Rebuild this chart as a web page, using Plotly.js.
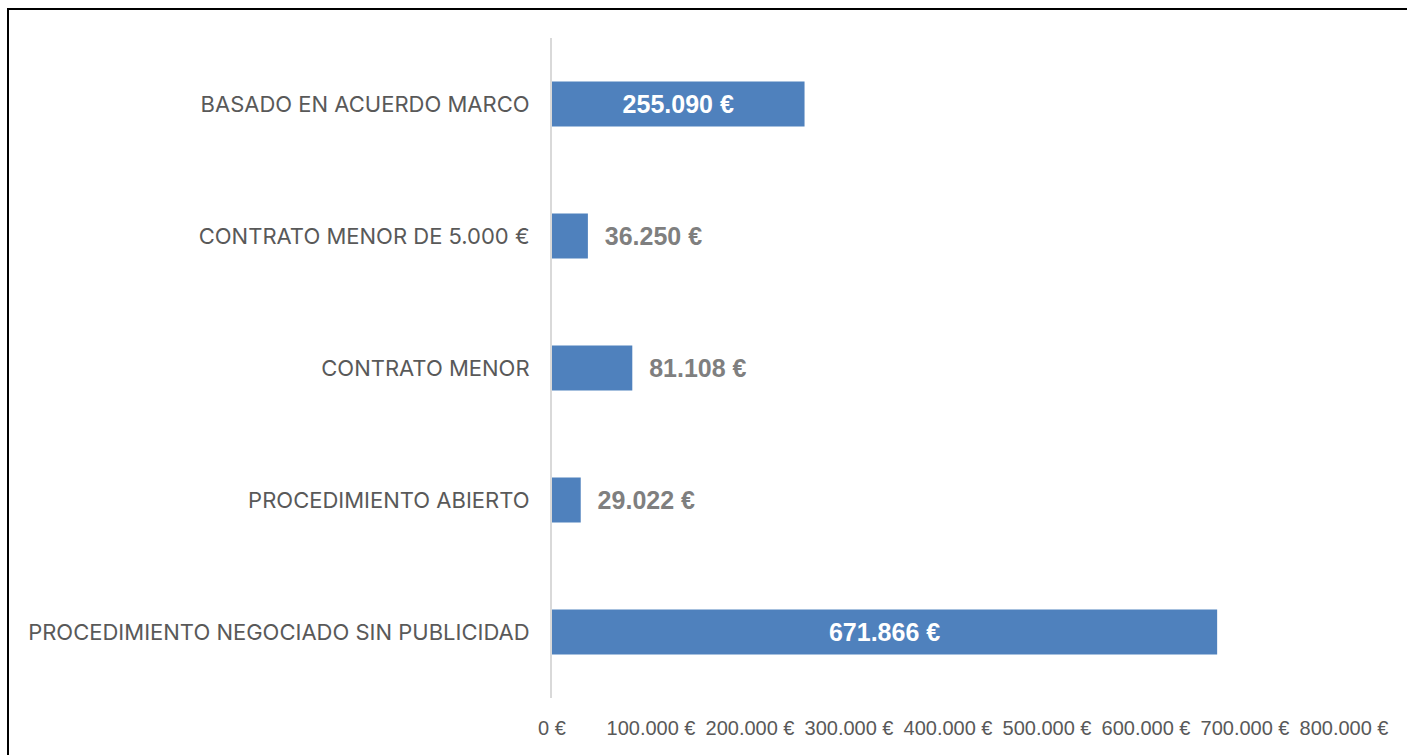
<!DOCTYPE html>
<html>
<head>
<meta charset="utf-8">
<script src="https://cdn.plot.ly/plotly-3.0.1.min.js"></script>
<style>
  html, body { margin: 0; padding: 0; background: #ffffff; }
  #frame { position: absolute; left: 7px; top: 8px; width: 1400px; height: 747px;
           border-top: 2px solid #000; border-left: 2px solid #000; box-sizing: border-box; }
  #chart { position: absolute; left: 0; top: 0; width: 1407px; height: 755px; }
</style>
</head>
<body>
<div id="frame"></div>
<div id="chart"></div>
<script>
// Categories listed top to bottom as in the chart
const categories = [
  'BASADO EN ACUERDO MARCO',
  'CONTRATO MENOR DE 5.000 €',
  'CONTRATO MENOR',
  'PROCEDIMIENTO ABIERTO',
  'PROCEDIMIENTO NEGOCIADO SIN PUBLICIDAD'
];
const importes = [255090, 36250, 81108, 29022, 671866];
const tickValues = [0, 100000, 200000, 300000, 400000, 500000, 600000, 700000, 800000];
const tickLabels = ['0 €', '100.000 €', '200.000 €', '300.000 €', '400.000 €',
                    '500.000 €', '600.000 €', '700.000 €', '800.000 €'];

const labelPositions = importes.map(v => v > 150000 ? 'inside' : 'outside');
const labelTemplates = labelPositions.map(p =>
  p === 'inside' ? '%{x:,.0f} €' : '\u00a0\u00a0%{x:,.0f} €');

const labelFont = 'Liberation Sans, Arial, sans-serif';

const trace = {
  type: 'bar',
  orientation: 'h',
  y: categories,
  x: importes,
  width: 0.34,
  marker: { color: '#4f81bd' },
  texttemplate: labelTemplates,
  textposition: labelPositions,
  insidetextanchor: 'middle',
  insidetextfont: { family: labelFont, size: 25, color: '#ffffff', weight: 'bold' },
  outsidetextfont: { family: labelFont, size: 25, color: '#7f7f7f', weight: 'bold' },
  textfont: { family: labelFont, size: 25, weight: 'bold' },
  cliponaxis: false,
  hoverinfo: 'skip'
};

const layout = {
  width: 1407,
  height: 755,
  paper_bgcolor: 'rgba(0,0,0,0)',
  plot_bgcolor: 'rgba(0,0,0,0)',
  separators: ',.',
  showlegend: false,
  margin: { l: 552, r: 63, t: 38, b: 57, pad: 0 },
  xaxis: {
    range: [0, 800000],
    tickmode: 'array',
    tickvals: tickValues,
    ticktext: tickLabels,
    showgrid: false,
    zeroline: false,
    showline: false,
    ticks: 'outside',
    ticklen: 12,
    tickcolor: 'rgba(0,0,0,0)',
    tickfont: { family: labelFont, size: 20, color: '#595959' },
    fixedrange: true
  },
  yaxis: {
    autorange: 'reversed',
    showgrid: false,
    zeroline: false,
    showline: true,
    linecolor: '#d9d9d9',
    linewidth: 2,
    ticks: 'outside',
    ticklen: 16,
    tickcolor: 'rgba(0,0,0,0)',
    tickfont: { family: 'Inter, Noto Sans, sans-serif', size: 22, color: '#595959' },
    fixedrange: true
  }
};

Plotly.newPlot('chart', [trace], layout, { displayModeBar: false, staticPlot: true });
</script>
</body>
</html>
